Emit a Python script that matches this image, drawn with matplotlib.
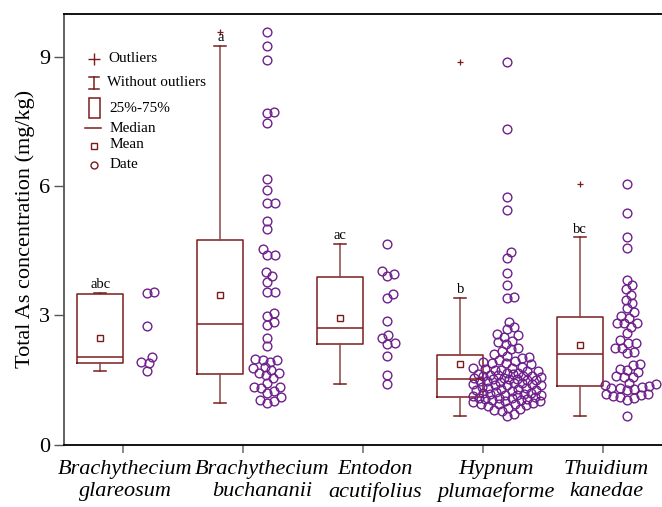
import matplotlib
matplotlib.use('Agg')
import matplotlib.pyplot as plt
from matplotlib.lines import Line2D
from matplotlib.patches import Rectangle
import numpy as np

plt.rcParams['font.family'] = ['Liberation Serif', 'DejaVu Serif']

species = ['Brachythecium\nglareosum', 'Brachythecium\nbuchananii', 'Entodon\nacutifolius',
           'Hypnum\nplumaeforme', 'Thuidium\nkanedae']
letters = ['abc', 'a', 'ac', 'b', 'bc']

# box statistics
q1 = [1.89, 1.63, 2.33, 1.11, 1.36]
median = [2.02, 2.79, 2.70, 1.51, 2.10]
q3 = [3.49, 4.75, 3.89, 2.07, 2.96]
whisker_low = [1.70, 0.97, 1.40, 0.65, 0.65]
whisker_high = [3.52, 9.25, 4.66, 3.41, 4.81]
means = [2.47, 3.47, 2.93, 1.87, 2.32]
outliers = [[], [9.56], [], [8.87], [6.04]]

# raw measurements (mg/kg)
glareosum = [3.53, 3.51, 2.76, 1.91, 2.04, 1.88, 1.71]
buchananii = [9.56, 9.25, 8.93, 7.71, 7.68, 7.47, 6.15, 5.90, 5.61, 5.61, 5.19, 4.99,
              4.53, 4.39, 4.39, 4.00, 3.90, 3.77, 3.53, 3.53, 3.04, 2.97, 2.85, 2.77,
              2.47, 2.28, 1.97, 1.97, 1.99, 1.91, 1.80, 1.77, 1.73, 1.65, 1.65, 1.61,
              1.54, 1.43, 1.34, 1.34, 1.30, 1.24, 1.20, 1.10, 1.02, 1.03, 0.97]
acutifolius = [4.66, 3.96, 4.03, 3.91, 3.39, 3.50, 2.86, 2.53, 2.46, 2.35, 2.34, 2.06,
               1.61, 1.40]
plumaeforme = [8.87, 7.33, 5.75, 5.44, 4.47, 4.32, 3.97, 3.70, 3.42, 3.40,
               2.85, 2.72, 2.68, 2.57, 2.53, 2.50, 2.41, 2.37, 2.33, 2.25, 2.21, 2.18,
               2.09, 2.06, 2.03, 2.01, 1.95, 1.93, 1.91, 1.89, 1.88, 1.86,
               1.80, 1.78, 1.77, 1.75, 1.74, 1.72, 1.71, 1.70,
               1.67, 1.66, 1.64, 1.63, 1.62, 1.61, 1.60, 1.59, 1.58,
               1.56, 1.55, 1.54, 1.53, 1.52, 1.51, 1.50, 1.49, 1.48, 1.47,
               1.44, 1.43, 1.42, 1.41, 1.40, 1.39, 1.38, 1.37,
               1.33, 1.31, 1.30, 1.29, 1.28, 1.27, 1.26, 1.25,
               1.21, 1.20, 1.19, 1.18, 1.17, 1.16, 1.15, 1.14, 1.13,
               1.10, 1.09, 1.08, 1.07, 1.06, 1.05, 1.04, 1.03, 1.02, 1.01,
               0.98, 0.96, 0.95, 0.94, 0.93, 0.91, 0.90,
               0.85, 0.82, 0.80, 0.78, 0.70, 0.66]
kanedae = [6.04, 5.36, 4.81, 4.57, 3.82, 3.70, 3.60, 3.47, 3.35, 3.28, 3.16, 3.07,
           2.97, 2.94, 2.81, 2.83, 2.83, 2.73, 2.58, 2.42, 2.36, 2.35, 2.25, 2.25,
           2.15, 2.12, 1.84, 1.86, 1.69, 1.73, 1.75, 1.56, 1.57, 1.59, 1.40, 1.38,
           1.36, 1.43, 1.30, 1.28, 1.26, 1.30, 1.33, 1.13, 1.17, 1.14, 1.18, 1.03,
           1.07, 1.11, 0.66]
groups = [glareosum, buchananii, acutifolius, plumaeforme, kanedae]

box_col = '#7a1c1c'
pt_col = '#6e1f8c'

W, H = 662, 507
fig = plt.figure(figsize=(W / 100, H / 100), dpi=100)
# axes runs off the right edge, like the original
ax = fig.add_axes([64 / W, 62.5 / H, 611 / W, 431 / H])
ax.set_xlim(0.508, 5.6)
ax.set_ylim(0, 10)

pos = np.arange(1, len(species) + 1)

stats = []
for i in range(len(species)):
    stats.append(dict(med=median[i], q1=q1[i], q3=q3[i], whislo=whisker_low[i],
                      whishi=whisker_high[i], mean=means[i], fliers=outliers[i]))
lp = dict(color=box_col, linewidth=1.1)
ax.bxp(stats, positions=pos - 0.19, widths=0.38, capwidths=0.1, showmeans=True,
       boxprops=lp, whiskerprops=dict(color='#8a4545', linewidth=1.1), capprops=lp,
       medianprops=lp,
       meanprops=dict(marker='s', markersize=4, markerfacecolor='none',
                      markeredgecolor=box_col, markeredgewidth=1.0),
       flierprops=dict(marker='+', markersize=5, markeredgecolor=box_col,
                       markeredgewidth=0.9),
       manage_ticks=False)

for i, lab in enumerate(letters):
    ax.annotate(lab, (pos[i] - 0.19, whisker_high[i]), xytext=(0, 1),
                textcoords='offset points', ha='center', va='bottom', fontsize=10.5)


def swarm(yp, d, max_w):
    # beeswarm in pixel space, squeezed into +-max_w (overlap allowed there)
    order = np.argsort(yp)
    placed = []
    xs = np.zeros(len(yp))
    grid = np.linspace(-max_w, max_w, 61)
    for i in order:
        y = yp[i]
        near = [(px, py) for px, py in placed if abs(py - y) < d]
        cands = [0.0]
        for px, py in near:
            dx = np.sqrt(d * d - (py - y) ** 2)
            cands += [c for c in (px + dx, px - dx) if abs(c) <= max_w]
        cands.sort(key=abs)
        chosen = None
        for c in cands:
            if all((c - px) ** 2 + (y - py) ** 2 >= d * d - 1e-6 for px, py in near):
                chosen = c
                break
        if chosen is None:
            best = [min((g - px) ** 2 + (y - py) ** 2 for px, py in near) for g in grid]
            chosen = grid[int(np.argmax(best))]
        xs[i] = chosen
        placed.append((chosen, y))
    return xs


for i, vals in enumerate(groups):
    vals = np.array(vals)
    centre = pos[i] + 0.2
    pix = ax.transData.transform(np.column_stack([np.full(len(vals), centre), vals]))
    off = swarm(pix[:, 1], 7.5, 34)
    pix[:, 0] += off
    data = ax.transData.inverted().transform(pix)
    ax.plot(data[:, 0], vals, 'o', markersize=6.3, markerfacecolor='none',
            markeredgecolor=pt_col, markeredgewidth=1.0, linestyle='none', clip_on=False)

ax.set_xticks(pos)
ax.set_xticklabels([])
# labels in the original are nudged sideways, not centred on ticks
nudge = [2, 19, 12, 13, 3]
for i, lab in enumerate(species):
    ax.annotate(lab, (pos[i], 0), xytext=(nudge[i] * 0.72, -11),
                textcoords='offset points', ha='center', va='top', fontsize=16,
                fontstyle='italic', linespacing=1.2, annotation_clip=False)
ax.set_yticks([0, 3, 6, 9])
ax.tick_params(axis='y', direction='out', length=7, width=1, color='#555555',
               labelsize=16, pad=3)
ax.tick_params(axis='x', direction='out', length=6, width=1.2, color='#777777')
ax.set_ylabel('Total As concentration (mg/kg)', fontsize=16, labelpad=3)

ax.spines['right'].set_visible(False)
ax.spines['left'].set_color('#555555')
ax.spines['left'].set_linewidth(1.3)
ax.spines['top'].set_linewidth(1.3)
ax.spines['bottom'].set_linewidth(1.3)


def P(x, y):
    return (x / W, 1 - y / H)


tf = fig.transFigure
fs = 11
fig.add_artist(Line2D(*zip(P(94, 59)), marker='+', markersize=8, color=box_col,
                      markeredgewidth=1.0, transform=tf))
fig.text(*P(108, 59), 'Outliers', fontsize=fs, va='center')
fig.add_artist(Line2D([P(94, 77)[0], P(94, 89)[0]], [P(94, 77)[1], P(94, 89)[1]],
                      color=box_col, lw=1.1, transform=tf))
for yy in (77, 89):
    fig.add_artist(Line2D([P(89, yy)[0], P(99, yy)[0]], [P(89, yy)[1], P(99, yy)[1]],
                          color=box_col, lw=1.1, transform=tf))
fig.text(*P(107, 83), 'Without outliers', fontsize=fs, va='center')
x0, y0 = P(89, 118)
x1, y1 = P(100, 98)
fig.add_artist(Rectangle((x0, y0), x1 - x0, y1 - y0, fill=False, edgecolor=box_col,
                         lw=1.1, transform=tf))
fig.text(*P(109, 108), '25%-75%', fontsize=fs, va='center')
fig.add_artist(Line2D([P(85, 128)[0], P(101, 128)[0]], [P(85, 128)[1], P(101, 128)[1]],
                      color=box_col, lw=1.1, transform=tf))
fig.text(*P(110, 128), 'Median', fontsize=fs, va='center')
fig.add_artist(Line2D(*zip(P(94, 146)), marker='s', markersize=4, markerfacecolor='none',
                      markeredgecolor=box_col, transform=tf))
fig.text(*P(110, 145), 'Mean', fontsize=fs, va='center')
fig.add_artist(Line2D(*zip(P(94, 165)), marker='o', markersize=5, markerfacecolor='none',
                      markeredgecolor=box_col, transform=tf))
fig.text(*P(110, 164), 'Date', fontsize=fs, va='center')

fig.savefig('out.png', dpi=100)
